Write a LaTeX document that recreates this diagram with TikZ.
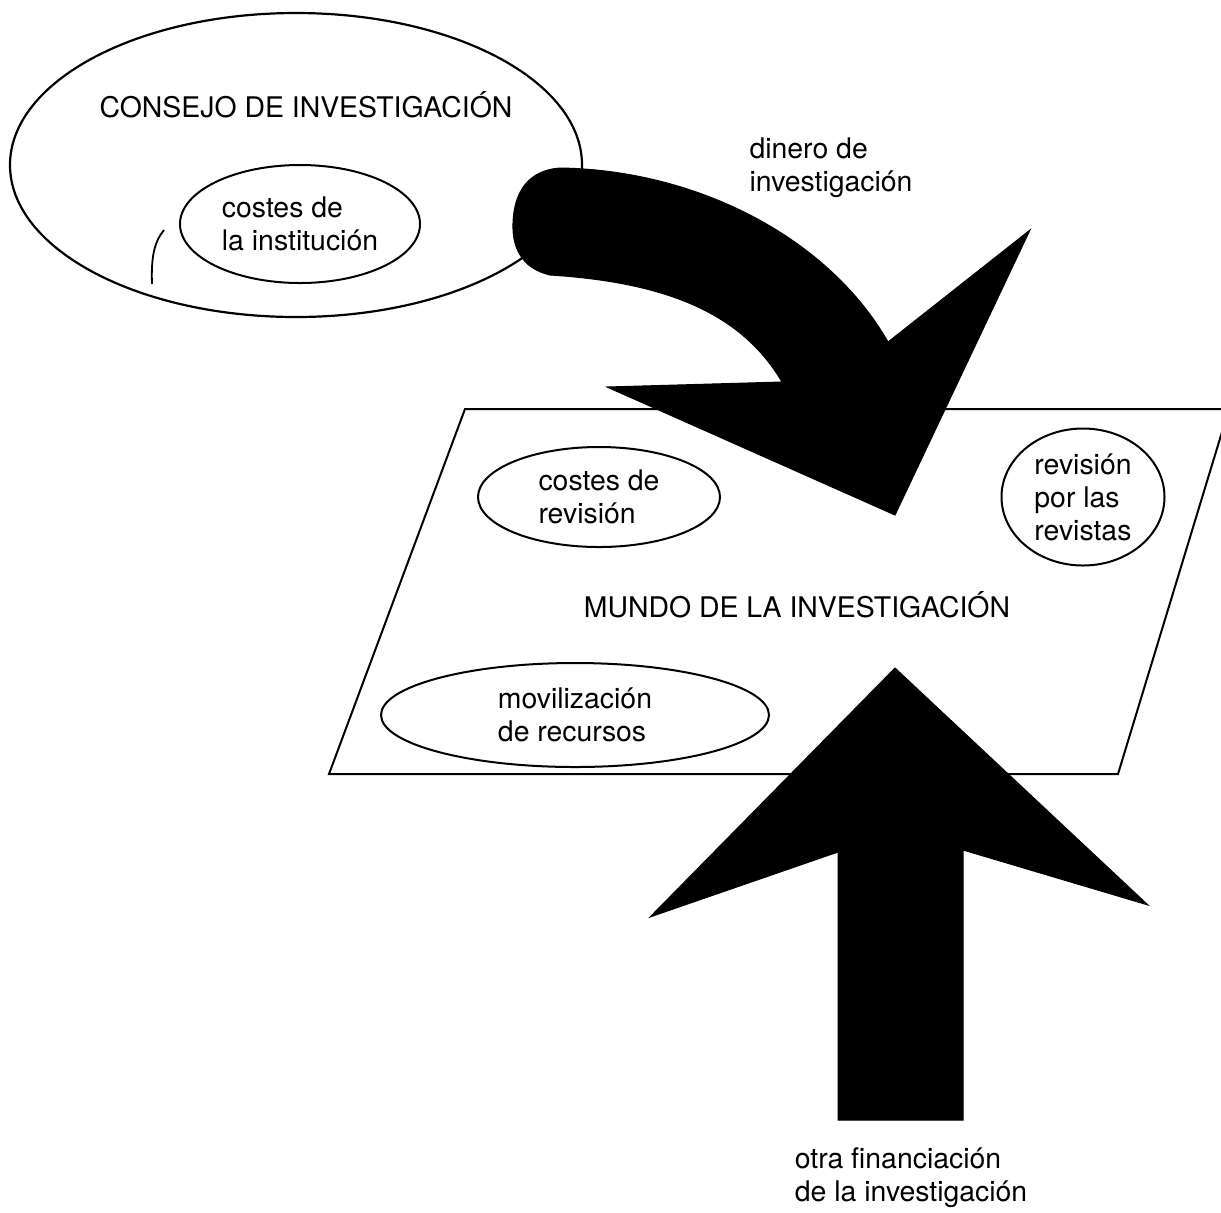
\documentclass[tikz,border=0pt]{standalone}
\usepackage{fontspec}
\setmainfont{TeX Gyre Heros}
\usetikzlibrary{shapes.geometric}
\begin{document}
\begin{tikzpicture}[x=0.5pt,y=-0.5pt,
  lbl/.style={inner sep=0pt, align=left, font=\fontsize{14.2}{16.5}\selectfont},
  oval/.style={ellipse, draw, line width=1pt, inner sep=0pt, align=left, font=\fontsize{14.2}{16.5}\selectfont},
  blockarrow/.style={fill=black, draw=black, line width=0.5pt, line join=miter}
]
\useasboundingbox (0,0) rectangle (1221,1212);
\fill[white] (0,0) rectangle (1221,1212);

% Consejo de investigacion
\node[oval, line width=1.1pt, minimum width=286pt, minimum height=152pt] (consejo) at (296,165) {};
\node[lbl, anchor=base] (consejoT) at (306,117) {CONSEJO DE INVESTIGACIÓN};
\node[oval, minimum width=120pt, minimum height=59pt] (ci) at (300,224) {costes de\\la institución};
\coordinate (m1) at (152,284);
\coordinate (m2) at (164,230);
\draw[line width=0.9pt] (m1) .. controls (151,258) and (154,242) .. (m2);

% Mundo de la investigacion
\coordinate (pTL) at (465,409);
\coordinate (pTR) at (1229,409);
\coordinate (pBR) at (1118,774);
\coordinate (pBL) at (329,774);
\draw[line width=1pt] (pTL) -- (pTR) -- (pBR) -- (pBL) -- cycle;
\node[oval, minimum width=121pt, minimum height=50pt] (cr) at (599,497) {costes de\\revisión};
\node[oval, minimum width=81.5pt, minimum height=68.5pt] (rr) at (1083,497) {revisión\\por las\\revistas};
\node[oval, minimum width=194pt, minimum height=52pt] (mr) at (575,715) {movilización\\de recursos};
\node[lbl, anchor=base] (mundoT) at (797,617) {MUNDO DE LA INVESTIGACIÓN};

% curved arrow
\draw[blockarrow] (560,168) .. controls (700,170) and (830,240) .. (888,342)
  -- (1030,230) -- (895,515) -- (607,387) -- (782,382)
  .. controls (740,310) and (660,282) .. (550,275)
  .. controls (520,268) and (512,245) .. (513,223)
  .. controls (514,190) and (530,170) .. (560,168) -- cycle;

% up arrow
\draw[blockarrow] (895,668) -- (1148,905) -- (963,850) -- (963,1120)
  -- (838,1120) -- (838,852) -- (650,917) -- cycle;

% labels
\node[lbl] (dinero) at (831,168) {dinero de\\investigación};
\node[lbl] (otra) at (911,1178) {otra financiación\\de la investigación};
\end{tikzpicture}
\end{document}
